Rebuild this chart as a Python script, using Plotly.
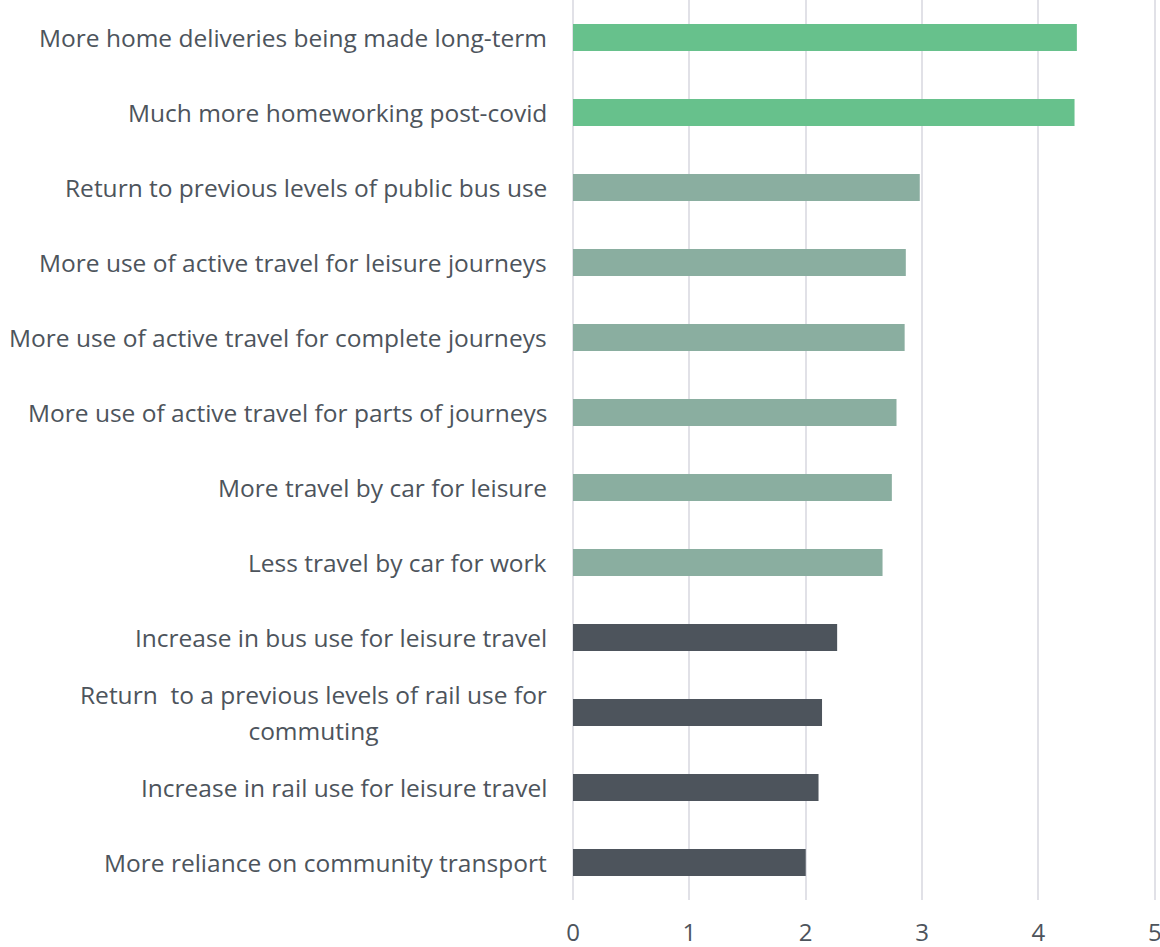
import plotly.graph_objects as go

categories = [
    "More home deliveries being made long-term",
    "Much more homeworking post-covid",
    "Return to previous levels of public bus use",
    "More use of active travel for leisure journeys",
    "More use of active travel for complete journeys",
    "More use of active travel for parts of journeys",
    "More travel by car for leisure",
    "Less travel by car for work",
    "Increase in bus use for leisure travel",
    "Return  to a previous levels of rail use for<br>commuting",
    "Increase in rail use for leisure travel",
    "More reliance on community transport",
]
values = [4.33, 4.31, 2.98, 2.86, 2.85, 2.78, 2.74, 2.66, 2.27, 2.14, 2.11, 2.00]
groups = ["high", "high", "mid", "mid", "mid", "mid", "mid", "mid", "low", "low", "low", "low"]
group_colors = {"high": "#67C18C", "mid": "#8AAEA0", "low": "#4D545C"}
x_ticks = [0, 1, 2, 3, 4, 5]

TEXT = "#4D545C"
FONT = "Open Sans"
LABEL_SIZE = 24.5

ids = list(range(len(categories)))

fig = go.Figure(
    go.Bar(
        x=values,
        y=ids,
        orientation="h",
        marker=dict(color=[group_colors[g] for g in groups], line=dict(width=0)),
        hoverinfo="x",
    )
)

annotations = []
for i, lab in zip(ids, categories):
    txt = "<br>".join(
        f"<span style='font-size:{LABEL_SIZE}px'>{part}</span>" for part in lab.split("<br>")
    )
    annotations.append(
        dict(
            x=0, y=i, xref="x", yref="y",
            text=txt, showarrow=False,
            xanchor="right", yanchor="middle", align="center",
            xshift=-24,
            font=dict(family=FONT, size=27.7, color=TEXT),
        )
    )

fig.update_layout(
    width=1160, height=947,
    margin=dict(l=573, r=4, t=0, b=47),
    paper_bgcolor="white", plot_bgcolor="white",
    bargap=0.64,
    showlegend=False,
    annotations=annotations,
    font=dict(family=FONT, size=24, color=TEXT),
    xaxis=dict(
        range=[0, 5.01], tickvals=x_ticks, ticktext=[str(t) for t in x_ticks],
        showgrid=True, gridcolor="#E1E1E7", gridwidth=2,
        zeroline=True, zerolinecolor="#E1E1E7", zerolinewidth=2,
        showline=False, ticks="", ticklabelstandoff=16,
        ticklabeloverflow="allow", automargin=False,
        tickfont=dict(family=FONT, size=24, color=TEXT),
        fixedrange=True,
    ),
    yaxis=dict(
        autorange="reversed", showticklabels=False, showgrid=False,
        zeroline=False, showline=False, ticks="", automargin=False,
        tickvals=ids, fixedrange=True,
    ),
)

fig.write_html(
    "out.html",
    config={"displayModeBar": False},
    post_script="document.body.style.margin='0';document.body.style.overflow='hidden';",
)
